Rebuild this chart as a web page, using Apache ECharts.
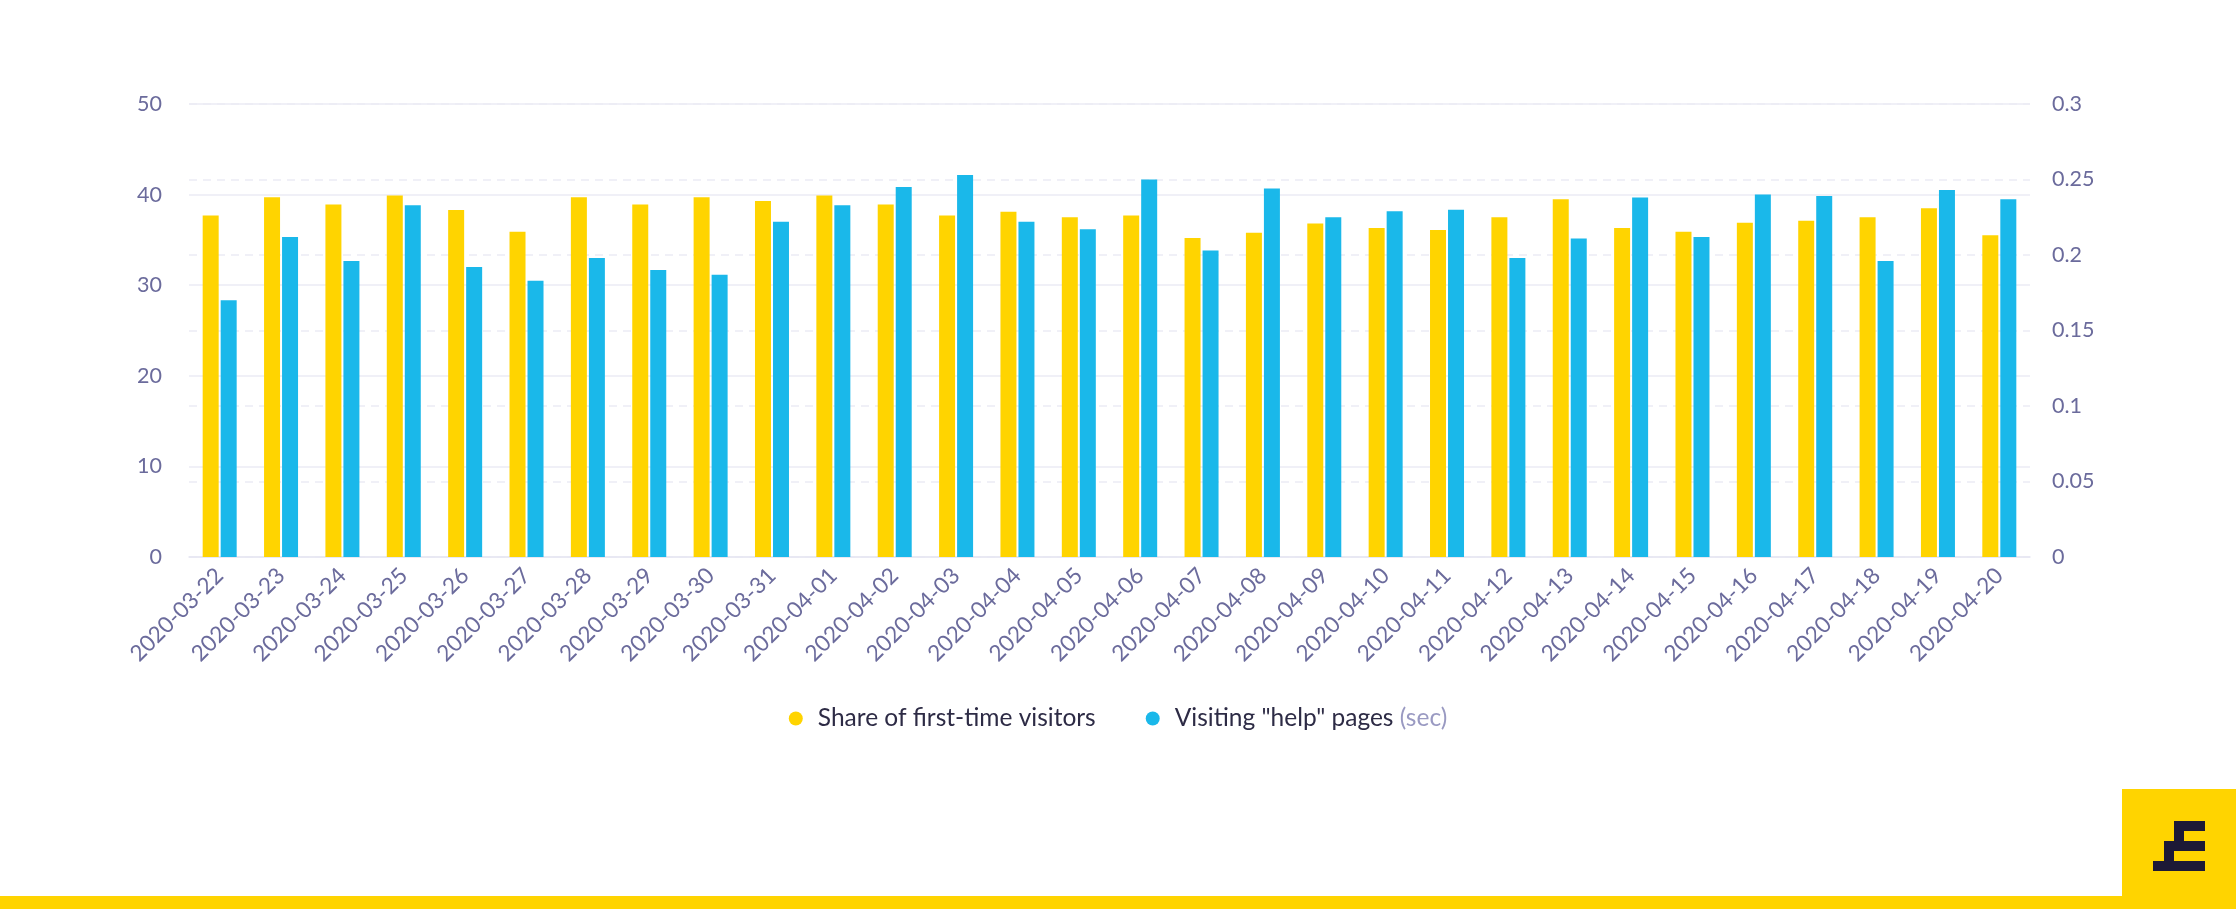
<!DOCTYPE html>
<html>
<head>
<meta charset="utf-8">
<script src="https://cdn.jsdelivr.net/npm/echarts@6/dist/echarts.min.js"></script>
<style>
  html, body { margin: 0; padding: 0; background: #ffffff; }
  #chart { width: 2236px; height: 909px; }
</style>
</head>
<body>
<div id="chart"></div>
<script>
const categories = ['2020-03-22','2020-03-23','2020-03-24','2020-03-25','2020-03-26','2020-03-27','2020-03-28','2020-03-29','2020-03-30','2020-03-31','2020-04-01','2020-04-02','2020-04-03','2020-04-04','2020-04-05','2020-04-06','2020-04-07','2020-04-08','2020-04-09','2020-04-10','2020-04-11','2020-04-12','2020-04-13','2020-04-14','2020-04-15','2020-04-16','2020-04-17','2020-04-18','2020-04-19','2020-04-20'];
const shareFirstTime = [37.7, 39.7, 38.9, 39.9, 38.3, 35.9, 39.7, 38.9, 39.7, 39.3, 39.9, 38.9, 37.7, 38.1, 37.5, 37.7, 35.2, 35.8, 36.8, 36.3, 36.1, 37.5, 39.5, 36.3, 35.9, 36.9, 37.1, 37.5, 38.5, 35.5];
const helpPagesSec = [0.170, 0.212, 0.196, 0.233, 0.192, 0.183, 0.198, 0.190, 0.187, 0.222, 0.233, 0.245, 0.253, 0.222, 0.217, 0.250, 0.203, 0.244, 0.225, 0.229, 0.230, 0.198, 0.211, 0.238, 0.212, 0.240, 0.239, 0.196, 0.243, 0.237];
const seriesNames = ['Share of first-time visitors', 'Visiting "help" pages'];
const unitSuffix = '(sec)';

const FONT = 'Lato, "Noto Sans", sans-serif';
const LABEL = '#6b6b9c';
const GRID = '#ebebf5';

const chart = echarts.init(document.getElementById('chart'), null, { renderer: 'canvas' });
chart.setOption({
  backgroundColor: '#ffffff',
  animation: false,
  textStyle: { fontFamily: FONT },
  grid: { left: 189, right: 206, top: 104, bottom: 352, containLabel: false },
  legend: {
    data: seriesNames,
    left: 'center',
    top: 701,
    icon: 'circle',
    itemWidth: 14,
    itemHeight: 14,
    itemGap: 50,
    textStyle: {
      fontFamily: FONT,
      fontSize: 24.5,
      color: '#2d2b45',
      padding: [0, 0, 0, 10],
      rich: { s: { fontFamily: FONT, fontSize: 24.5, color: '#9a9ac2' } }
    },
    formatter: function (name) {
      return name === seriesNames[1] ? name + ' {s|' + unitSuffix + '}' : name;
    }
  },
  xAxis: {
    type: 'category',
    data: categories,
    axisTick: { show: false },
    axisLine: { show: true, lineStyle: { color: '#e6e6f2', width: 1.5 } },
    axisLabel: { interval: 0, rotate: 45, margin: 15, color: LABEL, fontSize: 22.5, fontFamily: FONT }
  },
  yAxis: [
    {
      type: 'value', min: 0, max: 50, interval: 10,
      axisLine: { show: false }, axisTick: { show: false },
      axisLabel: { color: LABEL, fontSize: 21.5, margin: 27, fontFamily: FONT },
      splitLine: { show: true, lineStyle: { color: GRID, width: 1.5 } }
    },
    {
      type: 'value', min: 0, max: 0.3, interval: 0.05, position: 'right',
      axisLine: { show: false }, axisTick: { show: false },
      axisLabel: { color: LABEL, fontSize: 21.5, margin: 22, fontFamily: FONT, padding: [8, 0, 0, 0] },
      splitLine: { show: true, lineStyle: { color: GRID, width: 1.5, type: [8, 6] } }
    }
  ],
  series: [
    {
      name: seriesNames[0], type: 'bar', yAxisIndex: 0, data: shareFirstTime,
      barWidth: 16, barGap: '12.5%',
      itemStyle: { color: '#ffd400' }
    },
    {
      name: seriesNames[1], type: 'bar', yAxisIndex: 1, data: helpPagesSec,
      barWidth: 16,
      itemStyle: { color: '#1ab8ea' }
    }
  ],
  graphic: [
    { type: 'rect', left: 0, top: 896, shape: { width: 2236, height: 13 }, style: { fill: '#ffd400' }, silent: true },
    { type: 'rect', left: 2122, top: 789, shape: { width: 114, height: 120 }, style: { fill: '#ffd400' }, silent: true },
    { type: 'rect', left: 2174, top: 821, shape: { width: 31, height: 10 }, style: { fill: '#1d1936' }, silent: true },
    { type: 'rect', left: 2174, top: 831, shape: { width: 10, height: 10 }, style: { fill: '#1d1936' }, silent: true },
    { type: 'rect', left: 2164, top: 841, shape: { width: 41, height: 10 }, style: { fill: '#1d1936' }, silent: true },
    { type: 'rect', left: 2164, top: 851, shape: { width: 10, height: 10 }, style: { fill: '#1d1936' }, silent: true },
    { type: 'rect', left: 2153, top: 861, shape: { width: 52, height: 10 }, style: { fill: '#1d1936' }, silent: true }
  ]
});
</script>
</body>
</html>
